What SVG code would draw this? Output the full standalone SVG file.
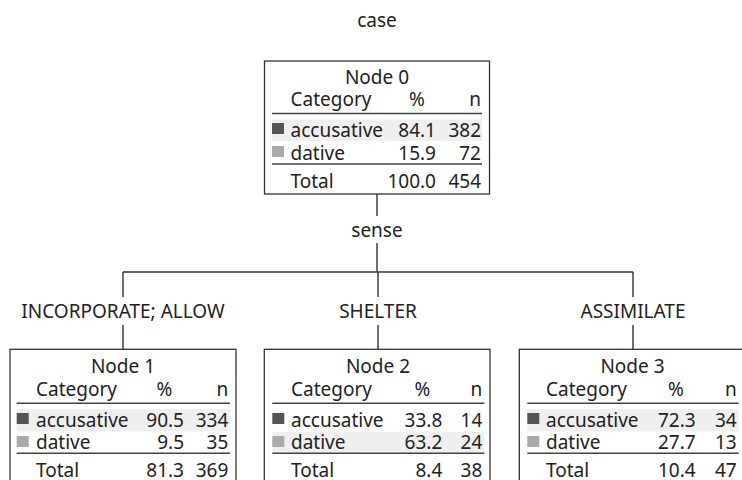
<svg xmlns="http://www.w3.org/2000/svg" width="742" height="480" viewBox="0 0 742 480">
<style>
text{font-family:"Noto Sans","Open Sans","Liberation Sans",sans-serif;font-size:19px;fill:#222}
.m{text-anchor:middle}
.e{text-anchor:end}
.box{fill:#fff;stroke:#333;stroke-width:1.3}
.rule{stroke:#444;stroke-width:1.5}
.hl{fill:#efefef}
.dk{fill:#555}
.lt{fill:#aaa}
.conn line{stroke:#333;stroke-width:1.4}
</style>
<rect width="742" height="480" fill="#fff"/>
<text class="m" x="377" y="27">case</text>

<g class="conn" id="connectors">
<line x1="377" y1="194" x2="377" y2="216"/>
<line x1="377" y1="243" x2="377" y2="272"/>
<line x1="123" y1="272" x2="633" y2="272"/>
<line x1="123" y1="272" x2="123" y2="297"/>
<line x1="123" y1="325" x2="123" y2="349"/>
<line x1="378" y1="272" x2="378" y2="297"/>
<line x1="378" y1="325" x2="378" y2="349"/>
<line x1="633" y1="272" x2="633" y2="297"/>
<line x1="633" y1="325" x2="633" y2="349"/>
</g>
<text class="m" x="377" y="237">sense</text>
<text class="m" x="123" y="318">INCORPORATE; ALLOW</text>
<text class="m" x="378" y="318">SHELTER</text>
<text class="m" x="633" y="318">ASSIMILATE</text>

<g id="node0">
<rect class="box" x="264.5" y="61" width="225" height="133"/>
<text class="m" x="377" y="84">Node 0</text>
<text x="290.5" y="106">Category</text>
<text class="m" x="417" y="106">%</text>
<text class="e" x="481" y="106">n</text>
<line class="rule" x1="272" y1="113.5" x2="482" y2="113.5"/>
<rect class="hl" x="272" y="119.3" width="210" height="21.5"/>
<rect class="dk" x="272" y="123" width="12" height="11"/>
<text x="290.5" y="136.5">accusative</text>
<text class="e" x="436" y="136.5">84.1</text>
<text class="e" x="481" y="136.5">382</text>
<rect class="lt" x="272" y="146" width="12" height="11"/>
<text x="290.5" y="159.5">dative</text>
<text class="e" x="436" y="159.5">15.9</text>
<text class="e" x="481" y="159.5">72</text>
<line class="rule" x1="272" y1="164" x2="482" y2="164"/>
<text x="290.5" y="188">Total</text>
<text class="e" x="436" y="188">100.0</text>
<text class="e" x="481" y="188">454</text>
</g>

<g id="node1">
<rect class="box" x="10" y="349.3" width="226" height="140"/>
<text class="m" x="123" y="373.3">Node 1</text>
<text x="36" y="396">Category</text>
<text class="m" x="164.5" y="396">%</text>
<text class="e" x="228.3" y="396">n</text>
<line class="rule" x1="16.7" y1="403.3" x2="230" y2="403.3"/>
<rect class="hl" x="16.7" y="409" width="213.3" height="22.5"/>
<rect class="dk" x="16.7" y="413" width="12" height="11"/>
<text x="36" y="426.7">accusative</text>
<text class="e" x="184" y="426.7">90.5</text>
<text class="e" x="228.3" y="426.7">334</text>
<rect class="lt" x="16.7" y="436" width="12" height="11"/>
<text x="36" y="449">dative</text>
<text class="e" x="184" y="449">9.5</text>
<text class="e" x="228.3" y="449">35</text>
<line class="rule" x1="16.7" y1="453.3" x2="230" y2="453.3"/>
<text x="36" y="476.7">Total</text>
<text class="e" x="184" y="476.7">81.3</text>
<text class="e" x="228.3" y="476.7">369</text>
</g>

<g id="node2">
<rect class="box" x="264.3" y="349.3" width="225.7" height="140"/>
<text class="m" x="378" y="373.3">Node 2</text>
<text x="291" y="396">Category</text>
<text class="m" x="422.5" y="396">%</text>
<text class="e" x="482.3" y="396">n</text>
<line class="rule" x1="272.3" y1="403.3" x2="484.3" y2="403.3"/>
<rect class="hl" x="272.3" y="431.7" width="212" height="21"/>
<rect class="dk" x="272.3" y="413" width="12" height="11"/>
<text x="291" y="426.7">accusative</text>
<text class="e" x="442.3" y="426.7">33.8</text>
<text class="e" x="482.3" y="426.7">14</text>
<rect class="lt" x="272.3" y="436" width="12" height="11"/>
<text x="291" y="449">dative</text>
<text class="e" x="442.3" y="449">63.2</text>
<text class="e" x="482.3" y="449">24</text>
<line class="rule" x1="272.3" y1="453.3" x2="484.3" y2="453.3"/>
<text x="291" y="476.7">Total</text>
<text class="e" x="442.3" y="476.7">8.4</text>
<text class="e" x="482.3" y="476.7">38</text>
</g>

<g id="node3">
<rect class="box" x="519.3" y="349.3" width="226" height="140"/>
<text class="m" x="632.5" y="373.3">Node 3</text>
<text x="546" y="396">Category</text>
<text class="m" x="676" y="396">%</text>
<text class="e" x="736.7" y="396">n</text>
<line class="rule" x1="527.3" y1="403.3" x2="738.7" y2="403.3"/>
<rect class="hl" x="527.3" y="409" width="211.4" height="22.5"/>
<rect class="dk" x="527.3" y="413" width="12" height="11"/>
<text x="546" y="426.7">accusative</text>
<text class="e" x="695.7" y="426.7">72.3</text>
<text class="e" x="736.7" y="426.7">34</text>
<rect class="lt" x="527.3" y="436" width="12" height="11"/>
<text x="546" y="449">dative</text>
<text class="e" x="695.7" y="449">27.7</text>
<text class="e" x="736.7" y="449">13</text>
<line class="rule" x1="527.3" y1="453.3" x2="738.7" y2="453.3"/>
<text x="546" y="476.7">Total</text>
<text class="e" x="695.7" y="476.7">10.4</text>
<text class="e" x="736.7" y="476.7">47</text>
</g>
</svg>
